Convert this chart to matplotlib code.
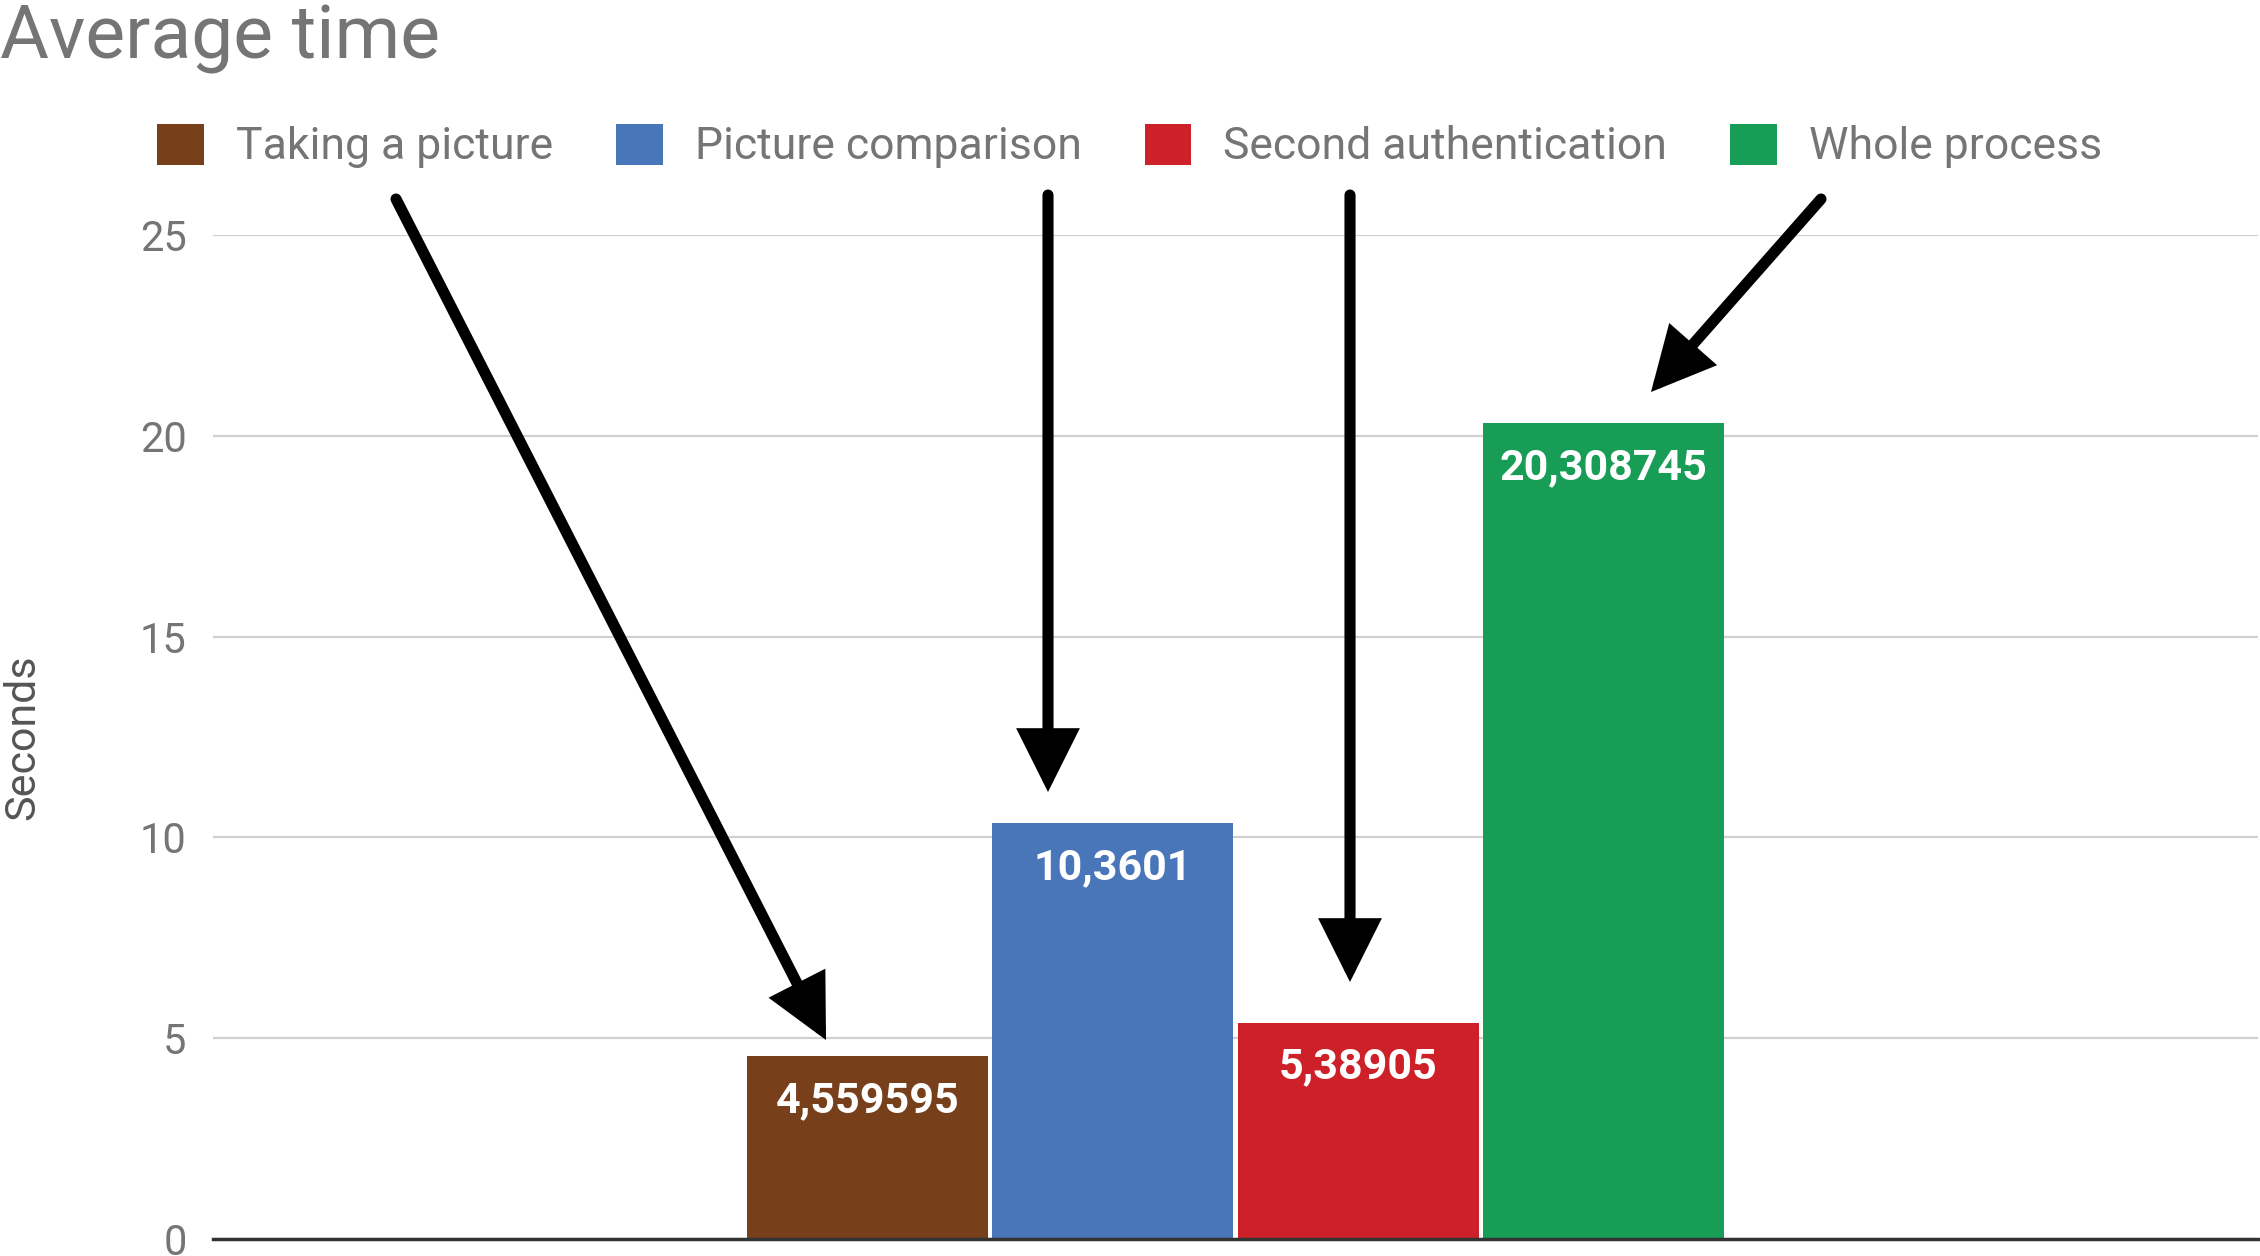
"""
average time per authentication step, grouped bar chart with callout arrows
"""

import matplotlib.pyplot as plt
from matplotlib.patches import Patch

plt.rcParams["font.family"] = ["Roboto", "DejaVu Sans"]

W, H = 2260, 1256

# data
series = ["Taking a picture", "Picture comparison", "Second authentication", "Whole process"]
seconds = [4.559595, 10.3601, 5.38905, 20.308745]
colors = ["#773F1A", "#4975B9", "#CE2028", "#179D56"]
y_ticks = [0, 5, 10, 15, 20, 25]

# callout arrows, (start, tip) in image pixels from top-left
arrows = [
    ((396, 199), (826, 1040)),
    ((1048, 195), (1048, 792)),
    ((1350, 195), (1350, 982)),
    ((1821, 199), (1651, 392)),
]


def px(x, y):
    # image pixel (top-left origin) -> figure pixels
    return (x, H - y)


fig = plt.figure(figsize=(W / 100, H / 100), dpi=100)
ax = fig.add_axes([213 / W, 17 / H, 2045 / W, 1004 / H])

xs = list(range(len(series)))
bars = ax.bar(xs, seconds, width=0.982, color=colors, zorder=2)

for x, v in zip(xs, seconds):
    ax.annotate(
        str(v).replace(".", ","),
        xy=(x, v),
        xytext=(0, -32),
        textcoords="offset points",
        ha="center",
        va="center",
        color="white",
        fontsize=31,
        fontweight="bold",
        zorder=3,
    )

ax.set_xlim(1.5 - 4.168, 1.5 + 4.168)
ax.set_ylim(0, 25)
ax.set_yticks(y_ticks)
ax.set_xticks([])
ax.tick_params(axis="y", length=0, pad=19, labelsize=30, labelcolor="#757575")
ax.grid(axis="y", color="#d0d0d0", linewidth=1.6, zorder=0)
for side in ["top", "right", "left"]:
    ax.spines[side].set_visible(False)
ax.spines["bottom"].set_color("#333333")
ax.spines["bottom"].set_linewidth(2.5)
ax.spines["bottom"].set_zorder(4)
ax.set_ylabel("Seconds", fontsize=31, color="#555555", labelpad=0)
ax.yaxis.set_label_coords(-190 / 2045, 0.5)
ax.yaxis.label.set_va("center")

fig.text(0, 1 - 58 / H, "Average time", fontsize=54, color="#757575", va="baseline", ha="left")

handles = [Patch(facecolor=c, edgecolor="none") for c in colors]
fig.legend(
    handles,
    series,
    loc="center left",
    bbox_to_anchor=(157 / W, 1 - 146 / H),
    ncol=4,
    frameon=False,
    fontsize=32,
    labelcolor="#757575",
    handlelength=1.05,
    handleheight=1.05,
    handletextpad=0.72,
    columnspacing=1.42,
    borderpad=0,
    borderaxespad=0,
)

for start, tip in arrows:
    ax.annotate(
        "",
        xy=px(*tip),
        xytext=px(*start),
        xycoords="figure pixels",
        textcoords="figure pixels",
        arrowprops=dict(
            arrowstyle="-|>,head_length=3.3,head_width=1.65",
            mutation_scale=10,
            lw=8,
            color="black",
            shrinkA=0,
            shrinkB=0,
            joinstyle="miter",
        ),
        annotation_clip=False,
        zorder=5,
    )

fig.savefig("out.png", dpi=100)
